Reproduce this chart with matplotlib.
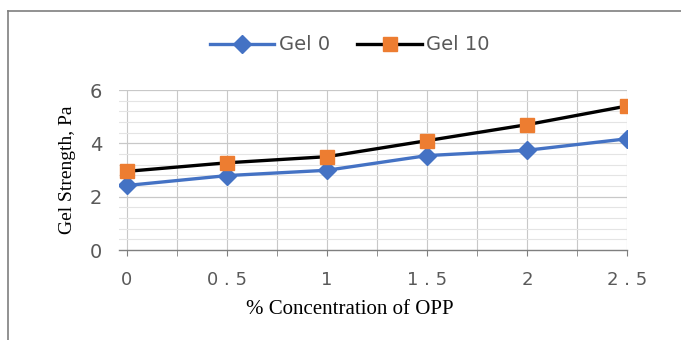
import numpy as np
import matplotlib.pyplot as plt
from matplotlib.lines import Line2D

# data
conc = [0, 0.5, 1, 1.5, 2, 2.5]
gel0 = [2.42, 2.79, 2.99, 3.54, 3.74, 4.17]
gel10 = [2.95, 3.27, 3.50, 4.10, 4.70, 5.40]
x_labels = ['0', '0 . 5', '1', '1 . 5', '2', '2 . 5']
y_ticks = [0, 2, 4, 6]

grey = '#595959'

fig = plt.figure(figsize=(6.81, 3.40), dpi=100)
ax = fig.add_axes([119/681, 1 - 250/340, (627 - 119)/681, 160/340])

# gridlines
for xv in np.arange(0, 2.51, 0.25):
    ax.axvline(xv, color='#c8c8c8', lw=0.8, zorder=0)
for yv in np.arange(0.4, 6.01, 0.4):
    if abs(yv - round(yv)) < 1e-6 and round(yv) % 2 == 0:
        continue
    ax.axhline(yv, color='#e4e4e4', lw=0.8, zorder=0)
for yv in [2, 4, 6]:
    ax.axhline(yv, color='#c8c8c8', lw=0.9, zorder=0)

ax.plot(conc, gel0, color='#4472C4', lw=2.4, marker='D', ms=9,
        mfc='#4472C4', mec='#4472C4', label='Gel 0', zorder=3)
ax.plot(conc, gel10, color='black', lw=2.4, marker='s', ms=10.5,
        mfc='#ED7D31', mec='#ED7D31', label='Gel 10', zorder=4)

ax.set_xlim(-0.04, 2.5)
ax.set_ylim(0, 6)
for s in ['top', 'right', 'left']:
    ax.spines[s].set_visible(False)
ax.spines['bottom'].set_color('#7f7f7f')
ax.spines['bottom'].set_linewidth(1.0)

ax.set_xticks(conc)
ax.set_xticklabels(x_labels)
ax.set_xticks(np.arange(0.25, 2.5, 0.5), minor=True)
ax.tick_params(axis='x', which='both', direction='out', length=4,
               color='#7f7f7f', labelsize=13, labelcolor=grey, pad=11)
ax.set_yticks(y_ticks)
ax.tick_params(axis='y', length=0, labelsize=14, labelcolor=grey, pad=12)

fig.text(350/681, 1 - 310/340, '% Concentration of OPP', family='Liberation Serif',
         fontsize=15, ha='center', va='center')
fig.text(67/681, 0.5, 'Gel Strength, Pa', family='Liberation Serif',
         fontsize=14, ha='center', va='center', rotation=90)

fig.legend(loc='center', bbox_to_anchor=(350/681, 1 - 45/340), ncol=2,
           frameon=False, fontsize=14, labelcolor=grey, handlelength=3.3,
           columnspacing=1.4, handletextpad=0.25)

# outer chart border (left and top only visible)
fig.add_artist(Line2D([8/681, 8/681], [0, 1 - 11/340], color='#7f7f7f', lw=1.2,
                      transform=fig.transFigure))
fig.add_artist(Line2D([8/681, 1], [1 - 11/340, 1 - 11/340], color='#7f7f7f', lw=1.2,
                      transform=fig.transFigure))

fig.savefig('out.png', dpi=100)
